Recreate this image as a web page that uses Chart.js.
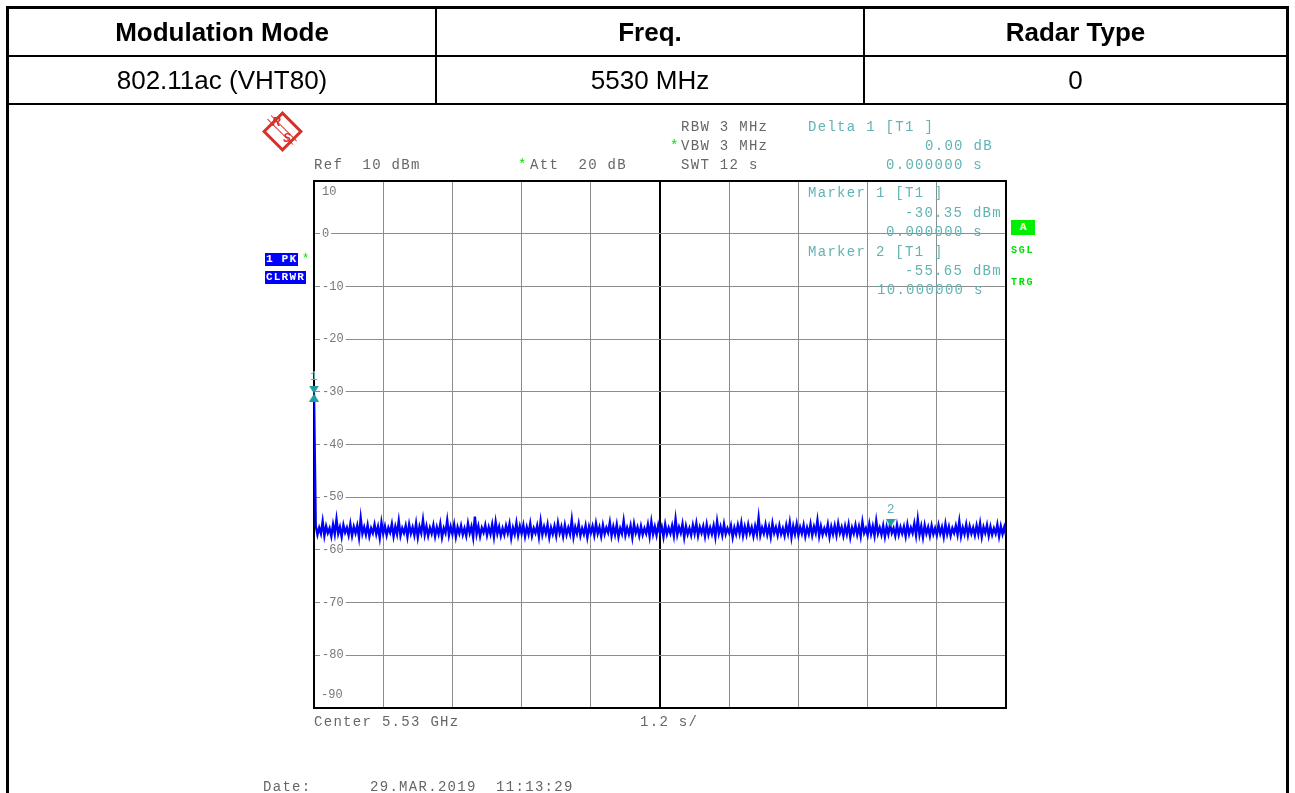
<!DOCTYPE html>
<html>
<head>
<meta charset="utf-8">
<script src="https://cdn.jsdelivr.net/npm/chart.js@4.4.1/dist/chart.umd.min.js"></script>
<style>
  body { margin: 0; background: #fff; }
  #page { position: relative; width: 1295px; height: 793px; overflow: hidden; }
  #chart { position: absolute; left: 0; top: 0; }
  .ln { position: absolute; background: #000; }
  .cell { position: absolute; font-family: "Liberation Sans", Arial, sans-serif; font-size: 26px;
          line-height: 30px; text-align: center; color: #000; }
  .b { font-weight: bold; }
  .t { position: absolute; font-family: "Liberation Mono", monospace; font-size: 14px; letter-spacing: 1.3px;
       line-height: 14px; white-space: pre; color: #666; }
  .m { color: #62b3b3; }
  .g { color: #00e000; }
  .tick { position: absolute; font-family: "Liberation Mono", monospace; font-size: 12px; line-height: 12px; color: #777; }
  .box { position: absolute; font-family: "Liberation Mono", monospace; font-size: 11px; font-weight: bold; letter-spacing: 1.2px;
         line-height: 13px; white-space: pre; color: #fff; background: #0000ff; padding: 0 1px; }
  .sm { position: absolute; font-family: "Liberation Mono", monospace; font-size: 10px; font-weight: bold;
        letter-spacing: 1.8px; line-height: 12px; color: #00e000; }
</style>
</head>
<body>
<div id="page">
  <canvas id="chart" width="1295" height="793"></canvas>

  <!-- table frame -->
  <div class="ln" style="left:6px;top:6px;width:1283px;height:3px"></div>
  <div class="ln" style="left:6px;top:6px;width:3px;height:787px"></div>
  <div class="ln" style="left:1286px;top:6px;width:3px;height:787px"></div>
  <div class="ln" style="left:6px;top:55px;width:1283px;height:2px"></div>
  <div class="ln" style="left:6px;top:103px;width:1283px;height:2px"></div>
  <div class="ln" style="left:435px;top:6px;width:2px;height:99px"></div>
  <div class="ln" style="left:863px;top:6px;width:2px;height:99px"></div>

  <div class="cell b" style="left:9px;top:17px;width:426px">Modulation Mode</div>
  <div class="cell b" style="left:437px;top:17px;width:426px">Freq.</div>
  <div class="cell b" style="left:865px;top:17px;width:421px">Radar Type</div>
  <div class="cell" style="left:9px;top:65px;width:426px">802.11ac (VHT80)</div>
  <div class="cell" style="left:437px;top:65px;width:426px">5530 MHz</div>
  <div class="cell" style="left:865px;top:65px;width:421px">0</div>

  <!-- R&S logo -->
  <div style="position:absolute;left:268px;top:117px;width:23px;height:23px;border:3px solid #d8312b;transform:rotate(45deg)"></div>
  <div style="position:absolute;left:264px;top:127px;width:36px;height:4px;border-top:1.5px solid #d8312b;border-bottom:1.5px solid #d8312b;transform:rotate(45deg)"></div>
  <div style="position:absolute;left:272px;top:115px;font:italic bold 12px 'Liberation Sans';color:#d8312b">R</div>
  <div style="position:absolute;left:283px;top:131px;font:italic bold 12px 'Liberation Sans';color:#d8312b">S</div>

  <!-- instrument header -->
  <div class="t" style="left:681px;top:120px">RBW 3 MHz</div>
  <div class="t g" style="left:670px;top:139px">*</div>
  <div class="t" style="left:681px;top:139px">VBW 3 MHz</div>
  <div class="t" style="left:681px;top:158px">SWT 12 s</div>
  <div class="t" style="left:314px;top:158px">Ref  10 dBm</div>
  <div class="t g" style="left:518px;top:158px">*</div>
  <div class="t" style="left:530px;top:158px">Att  20 dB</div>

  <div class="t m" style="left:808px;top:120px">Delta 1 [T1 ]</div>
  <div class="t m" style="left:925px;top:139px">0.00 dB</div>
  <div class="t m" style="left:886px;top:158px">0.000000 s</div>
  <div class="t m" style="left:808px;top:186px">Marker 1 [T1 ]</div>
  <div class="t m" style="left:905px;top:206px">-30.35 dBm</div>
  <div class="t m" style="left:886px;top:225px">0.000000 s</div>
  <div class="t m" style="left:808px;top:245px">Marker 2 [T1 ]</div>
  <div class="t m" style="left:905px;top:264px">-55.65 dBm</div>
  <div class="t m" style="left:877px;top:283px">10.000000 s</div>

  <div class="box" style="left:265px;top:253px">1 PK</div>
  <div class="t g" style="left:302px;top:252px;font-size:12px">*</div>
  <div class="box" style="left:265px;top:271px">CLRWR</div>

  <div class="box" style="left:1011px;top:220px;width:22px;height:15px;background:#00f000;text-align:center;line-height:15px;letter-spacing:0">A</div>
  <div class="sm" style="left:1011px;top:245px">SGL</div>
  <div class="sm" style="left:1011px;top:277px">TRG</div>

  <div class="tick" style="left:322px;top:186px">10</div>
  <div class="tick" style="left:321px;top:689px">-90</div>

  <div class="t" style="left:314px;top:715px">Center 5.53 GHz</div>
  <div class="t" style="left:640px;top:715px">1.2 s/</div>
  <div class="t" style="left:263px;top:780px">Date:</div>
  <div class="t" style="left:370px;top:780px">29.MAR.2019  11:13:29</div>
</div>

<script>
const sweepTime = 12;          // s, 1.2 s/div
const refLevel = 10;           // dBm
const bottomLevel = -90;       // dBm
const yTicks = [10, 0, -10, -20, -30, -40, -50, -60, -70, -80, -90];

// trace 1 (clear write, peak detector), dBm
const trace = [-30.35,
  -55.4,-57.1,-55.8,-56.9,-54.6,-57.3,-55.5,-56.8,-55.9,-57.4,-55.2,-57.0,-54.2,-56.9,-55.7,-57.5,-55.3,-56.7,-55.8,-57.2,
  -55.1,-57.3,-55.6,-56.8,-55.4,-57.6,-54.0,-56.9,-55.7,-57.1,-55.3,-57.4,-55.9,-56.8,-55.2,-57.0,-55.6,-57.7,-54.8,-56.9,
  -55.5,-57.2,-55.8,-56.7,-55.1,-57.4,-55.6,-57.0,-54.5,-57.3,-55.9,-56.8,-55.4,-57.5,-55.2,-56.9,-55.7,-57.2,-55.0,-57.6,
  -55.6,-56.8,-54.3,-57.1,-55.5,-57.3,-55.8,-56.9,-55.3,-57.4,-55.7,-57.0,-55.1,-57.6,-55.9,-56.8,-54.4,-57.2,-55.6,-57.0,
  -55.2,-57.5,-55.7,-56.9,-55.4,-57.1,-55.9,-57.3,-55.0,-56.8,-55.6,-57.6,-53.7,-57.0,-55.5,-57.4,-55.8,-56.7,-55.3,-57.2,
  -55.7,-57.0,-55.2,-57.5,-54.7,-56.9,-55.6,-57.3,-55.9,-57.1,-55.4,-56.8,-55.1,-57.7,-55.8,-57.0,-54.9,-57.2,-55.5,-56.9,
  -55.3,-57.4,-55.7,-57.0,-55.0,-57.3,-55.9,-56.8,-55.4,-57.5,-54.6,-57.1,-55.6,-56.9,-55.2,-57.6,-55.8,-57.0,-55.5,-57.3,
  -54.9,-56.8,-55.6,-57.4,-55.3,-57.1,-55.8,-57.0,-54.3,-57.5,-55.7,-56.9,-55.1,-57.3,-55.9,-57.0,-55.4,-57.6,-55.6,-56.8,
  -55.5,-57.2,-55.0,-56.9,-55.7,-57.4,-55.3,-57.0,-55.8,-56.7,-54.8,-57.3,-55.6,-57.1,-55.2,-57.5,-55.9,-56.9,-54.5,-57.2,
  -55.8,-57.0,-55.4,-57.6,-55.1,-56.8,-55.7,-57.3,-55.5,-57.1,-55.9,-56.9,-55.2,-57.4,-54.7,-57.0,-55.6,-57.2,-55.3,-56.8,
  -55.6,-57.5,-55.2,-57.0,-55.8,-56.9,-55.4,-57.3,-54.2,-57.1,-55.7,-56.8,-55.1,-57.6,-55.5,-57.0,-55.9,-57.2,-55.3,-56.9,
  -55.0,-57.3,-55.7,-56.8,-55.5,-57.4,-55.2,-57.1,-55.8,-57.0,-55.4,-57.5,-54.6,-56.9,-55.6,-57.2,-55.1,-57.0,-55.9,-56.8,
  -55.4,-57.6,-55.8,-57.0,-55.3,-56.9,-54.9,-57.3,-55.6,-57.1,-55.2,-56.8,-55.7,-57.4,-55.5,-57.0,-53.9,-57.2,-55.8,-56.9,
  -55.2,-57.1,-55.6,-57.5,-55.0,-56.8,-55.7,-57.2,-55.4,-57.0,-55.9,-57.3,-55.3,-56.9,-54.8,-57.6,-55.5,-57.0,-55.1,-57.2,
  -55.7,-56.9,-55.3,-57.4,-55.8,-57.0,-55.1,-57.2,-55.6,-56.8,-54.4,-57.3,-55.5,-57.1,-55.9,-56.9,-55.2,-57.5,-55.6,-57.0,
  -55.4,-57.2,-55.0,-56.8,-55.7,-57.3,-55.5,-57.0,-55.2,-57.6,-55.8,-56.9,-55.3,-57.1,-55.6,-57.4,-54.7,-56.8,-55.9,-57.2,
  -55.1,-57.0,-55.5,-57.3,-54.5,-56.9,-55.8,-57.1,-55.4,-57.5,-55.6,-57.0,-55.2,-56.8,-55.9,-57.3,-55.3,-57.1,-55.7,-56.9,
  -55.6,-57.4,-55.2,-57.0,-55.8,-56.8,-55.0,-57.2,-54.2,-57.1,-55.5,-57.6,-55.3,-56.9,-55.7,-57.3,-55.4,-57.0,-55.9,-57.2,
  -55.3,-56.9,-55.7,-57.5,-55.1,-57.0,-55.6,-57.3,-55.9,-56.8,-55.4,-57.1,-54.6,-57.4,-55.8,-57.0,-55.2,-57.2,-55.5,-56.9,
  -55.8,-57.2,-55.4,-57.0,-55.0,-57.5,-55.7,-56.8,-55.3,-57.3,-55.6,-57.1,-55.9,-56.9,-55.2,-57.4,-55.5,-57.0,-55.7,-57.2
];

const markerNames = ['1', '2'];
const markerTimes = [0, 10];          // s
const markerLevels = [-30.35, -55.65]; // dBm

const traceColor = '#0000ff';
const markerColor = '#1f9e9e';
const gridColor = '#8c8c8c';

// marker glyphs
function glyph(kind) {
  const c = document.createElement('canvas');
  c.width = 10; c.height = 16;
  const g = c.getContext('2d');
  g.fillStyle = markerColor;
  g.beginPath();
  g.moveTo(0, 0); g.lineTo(10, 0); g.lineTo(5, 8); g.closePath();
  if (kind === 'bowtie') {
    g.moveTo(5, 8); g.lineTo(10, 16); g.lineTo(0, 16); g.closePath();
  }
  g.fill();
  return c;
}
const markerGlyphs = [glyph('bowtie'), glyph('down')];

const near = (a, b) => Math.abs(a - b) < 1e-6;

const framePlugin = {
  id: 'frame',
  beforeDatasetsDraw(chart) {
    const a = chart.chartArea, ctx = chart.ctx;
    ctx.save();
    ctx.strokeStyle = '#000';
    ctx.lineWidth = 2;
    ctx.strokeRect(a.left, a.top, a.right - a.left, a.bottom - a.top);
    ctx.restore();
  },
  afterDatasetsDraw(chart) {
    const ctx = chart.ctx, xs = chart.scales.x, ys = chart.scales.y;
    ctx.save();
    ctx.fillStyle = '#62b3b3';
    ctx.font = '13px "Liberation Mono", monospace';
    ctx.textAlign = 'center';
    ctx.textBaseline = 'middle';
    markerNames.forEach((n, i) => {
      ctx.fillText(n, xs.getPixelForValue(markerTimes[i]), ys.getPixelForValue(markerLevels[i]) - 17);
    });
    ctx.restore();
  }
};

new Chart(document.getElementById('chart'), {
  type: 'line',
  data: {
    datasets: [
      {
        data: trace.map((v, i) => ({ x: i * sweepTime / (trace.length - 1), y: v })),
        borderColor: traceColor,
        borderWidth: 2.4,
        pointRadius: 0,
        tension: 0,
        order: 2
      },
      {
        type: 'scatter',
        data: markerTimes.map((t, i) => ({ x: t, y: markerLevels[i] })),
        pointStyle: markerGlyphs,
        pointRadius: 6,
        clip: false,
        order: 1
      }
    ]
  },
  options: {
    responsive: false,
    animation: false,
    events: [],
    layout: { padding: { left: 298, top: 181, right: 289, bottom: 85 } },
    plugins: { legend: { display: false }, tooltip: { enabled: false } },
    scales: {
      x: {
        type: 'linear',
        min: 0,
        max: sweepTime,
        ticks: { display: false, stepSize: sweepTime / 10 },
        border: { display: false },
        grid: {
          drawTicks: false,
          color: ctx => near(ctx.tick.value, sweepTime / 2) ? '#000' : gridColor,
          lineWidth: ctx => near(ctx.tick.value, sweepTime / 2) ? 2 : 1
        }
      },
      y: {
        type: 'linear',
        min: bottomLevel,
        max: refLevel,
        afterBuildTicks: axis => { axis.ticks = yTicks.map(v => ({ value: v })); },
        ticks: {
          mirror: true,
          padding: 8,
          color: '#777',
          font: { family: '"Liberation Mono", monospace', size: 12 },
          showLabelBackdrop: true,
          backdropColor: ctx => (ctx.tick && (ctx.tick.value === refLevel || ctx.tick.value === bottomLevel)) ? 'rgba(0,0,0,0)' : '#fff',
          backdropPadding: { left: 2, right: 2, top: 0, bottom: 0 },
          callback: v => (v === refLevel || v === bottomLevel) ? '' : String(v)
        },
        border: { display: false },
        grid: { drawTicks: false, color: gridColor, lineWidth: 1 }
      }
    }
  },
  plugins: [framePlugin]
});
</script>
</body>
</html>
